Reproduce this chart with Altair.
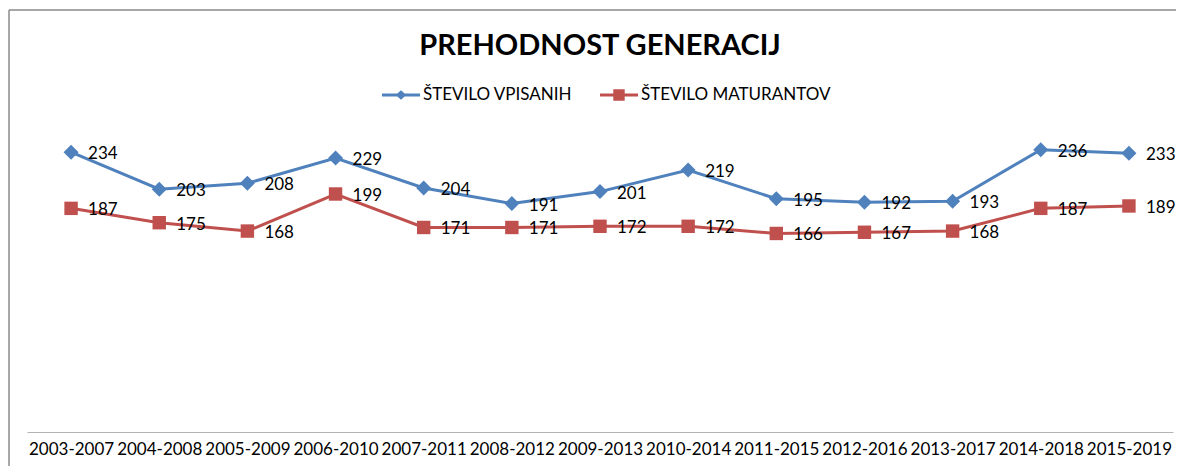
import altair as alt
import pandas as pd

periods = ["2003-2007", "2004-2008", "2005-2009", "2006-2010", "2007-2011",
           "2008-2012", "2009-2013", "2010-2014", "2011-2015", "2012-2016",
           "2013-2017", "2014-2018", "2015-2019"]
vpisani = [234, 203, 208, 229, 204, 191, 201, 219, 195, 192, 193, 236, 233]
maturanti = [187, 175, 168, 199, 171, 171, 172, 172, 166, 167, 168, 187, 189]
series_names = ["ŠTEVILO VPISANIH", "ŠTEVILO MATURANTOV"]
colors = ["#4F81BD", "#C0504D"]
title_text = "PREHODNOST GENERACIJ"

df = pd.DataFrame({
    "period": periods * 2,
    "value": vpisani + maturanti,
    "series": [series_names[0]] * len(periods) + [series_names[1]] * len(periods),
})

FONT = "Lato"
PAD_L, PAD_T = 19, 125
W, H = 1146, 299

x_enc = alt.X("period:N", sort=periods,
              scale=alt.Scale(type="point", padding=0.5),
              axis=alt.Axis(title=None, labelAngle=0, ticks=False,
                            domainColor="#B4B4B4", domainWidth=1.2,
                            labelFont=FONT, labelFontSize=17, labelColor="#000000",
                            labelPadding=9, labelOverlap=False))
y_enc = alt.Y("value:Q", scale=alt.Scale(domain=[0, 250], nice=False, zero=True),
              axis=None)

base = alt.Chart(df)


def series_layers(name, color, shape, size):
    sub = base.transform_filter(alt.datum.series == name)
    ln = sub.mark_line(strokeWidth=3, color=color).encode(x=x_enc, y=y_enc)
    pt = sub.mark_point(shape=shape, filled=True, size=size, opacity=1,
                        color=color).encode(x=x_enc, y=y_enc)
    return [ln, pt]


layers_blue = series_layers(series_names[0], colors[0], "diamond", 225)
layers_red = series_layers(series_names[1], colors[1], "square", 180)

labels = base.mark_text(align="left", baseline="middle", dx=17, dy=2,
                        font=FONT, fontSize=17, color="#000000").encode(
    x=x_enc, y=y_enc, text="value:Q")

leg_paths = [
    "M-1,-0.08H1V0.08H-1Z M-0.28,0L0,-0.25L0.28,0L0,0.25Z",
    "M-1,-0.08H1V0.08H-1Z M-0.3,-0.3H0.3V0.3H-0.3Z",
]
leg_props = dict(orient="none", legendX=355, legendY=-57, direction="horizontal",
                 title=None, symbolSize=1444, symbolStrokeWidth=0, symbolOpacity=1,
                 labelFont=FONT, labelFontSize=17, labelColor="#000000",
                 labelLimit=0, labelOffset=3, columnPadding=27)
legend_layer = base.mark_point(filled=True, opacity=0, size=0).encode(
    x=x_enc, y=y_enc,
    color=alt.Color("series:N", scale=alt.Scale(domain=series_names, range=colors),
                    legend=alt.Legend(**leg_props)),
    shape=alt.Shape("series:N", scale=alt.Scale(domain=series_names, range=leg_paths),
                    legend=alt.Legend(**leg_props)),
)

frame_src = alt.Chart(pd.DataFrame({"k": [0]}))
frame_top = frame_src.mark_rule(stroke="#8A8A8A", strokeWidth=1.5).encode(
    x=alt.value(-18), x2=alt.value(1149), y=alt.value(-123))
frame_left = frame_src.mark_rule(stroke="#8A8A8A", strokeWidth=1.5).encode(
    x=alt.value(-18), y=alt.value(-123), y2=alt.value(400))

title = alt.Chart(pd.DataFrame({"t": [title_text]})).mark_text(
    font=FONT, fontSize=29, fontWeight="bold", color="#000000",
    align="center", baseline="alphabetic"
).encode(x=alt.value(W / 2), y=alt.value(-78), text="t:N")

chart = alt.layer(frame_top, frame_left, title, *layers_blue, *layers_red, labels,
                  legend_layer).properties(
    width=W, height=H,
    background="#FFFFFF",
    autosize=alt.AutoSizeParams(type="none"),
    padding={"left": PAD_L, "top": PAD_T, "right": 3, "bottom": 34},
).configure_view(stroke=None)

chart.save("out.html", embed_options={"renderer": "svg", "actions": False})
